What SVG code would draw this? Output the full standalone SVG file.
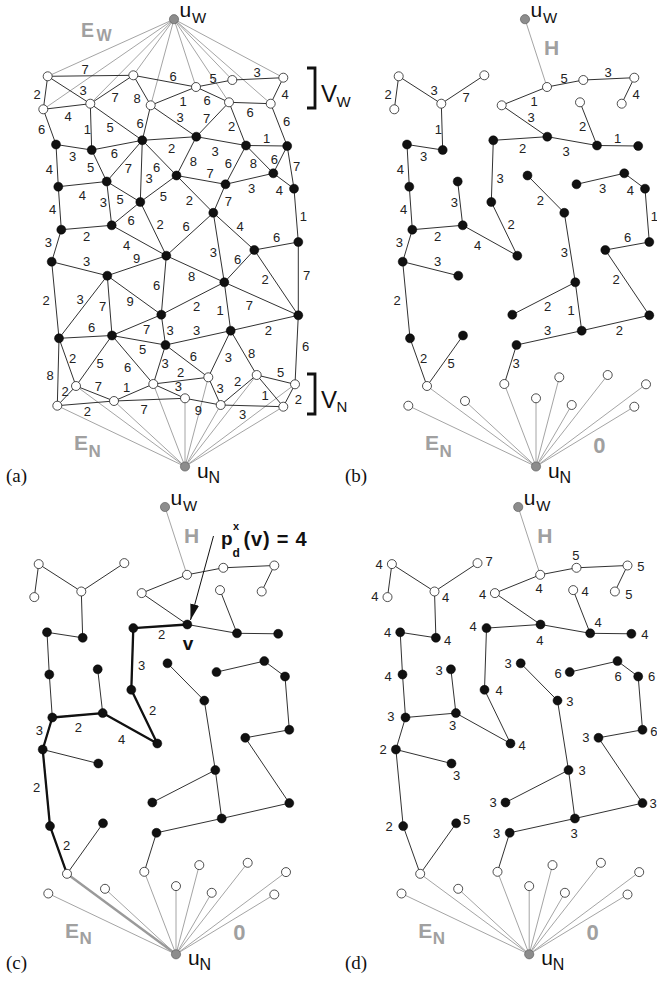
<svg xmlns="http://www.w3.org/2000/svg" width="657" height="981" viewBox="0 0 657 981">
<style>
.e line{stroke:#1a1a1a;stroke-width:0.9}
.g line,line.g{stroke:#9a9a9a;stroke-width:0.9}
.bold line{stroke:#111;stroke-width:2.3;stroke-linecap:round}
line.gb{stroke:#9a9a9a;stroke-width:2.4}
.w{fill:#fff;stroke:#222;stroke-width:0.8}
.b{fill:#111;stroke:#000;stroke-width:0.5}
.u{fill:#8c8c8c;stroke:#555;stroke-width:0.6}
.l text{font-family:'Liberation Sans',Arial,sans-serif;font-size:13px;fill:#222;text-anchor:middle}
.gl{font-family:'Liberation Sans',Arial,sans-serif;font-weight:bold;fill:#a0a0a0}
.t{font-family:'Liberation Sans',Arial,sans-serif;fill:#111}
.tb{font-family:'Liberation Sans',Arial,sans-serif;font-weight:bold;fill:#111}
.p{font-family:'Liberation Serif','Times New Roman',serif;font-size:19px;fill:#111}
.br{fill:none;stroke:#111;stroke-width:2.8}
</style>
<defs>
<marker id="ah" viewBox="0 0 16 9" refX="16" refY="4.5" markerWidth="16" markerHeight="9" markerUnits="userSpaceOnUse" orient="auto"><path d="M0,0 L16,4.5 L0,9 z" fill="#111"/></marker>
<g id="forest">
<g class="g">
<line x1="174" y1="19.2" x2="196" y2="87"/>
<line x1="185" y1="466.5" x2="76" y2="386"/>
<line x1="185" y1="466.5" x2="57.3" y2="405.7"/>
<line x1="185" y1="466.5" x2="114" y2="401"/>
<line x1="185" y1="466.5" x2="153.3" y2="384"/>
<line x1="185" y1="466.5" x2="208.3" y2="377.3"/>
<line x1="185" y1="466.5" x2="256.7" y2="375"/>
<line x1="185" y1="466.5" x2="295" y2="384.3"/>
<line x1="185" y1="466.5" x2="185" y2="398.3"/>
<line x1="185" y1="466.5" x2="220.7" y2="405"/>
<line x1="185" y1="466.5" x2="283.3" y2="406.7"/>
</g>
<g class="e">
<line x1="47.7" y1="76.3" x2="43.3" y2="109.3"/>
<line x1="47.7" y1="76.3" x2="90.3" y2="103.7"/>
<line x1="90.3" y1="103.7" x2="133.3" y2="75.3"/>
<line x1="90.3" y1="103.7" x2="91.7" y2="150"/>
<line x1="56" y1="144.5" x2="91.7" y2="150"/>
<line x1="56" y1="144.5" x2="58.3" y2="186.7"/>
<line x1="58.3" y1="186.7" x2="61.3" y2="229.7"/>
<line x1="61.3" y1="229.7" x2="111.7" y2="225.3"/>
<line x1="61.3" y1="229.7" x2="51.7" y2="261.7"/>
<line x1="106.7" y1="181.5" x2="111.7" y2="225.3"/>
<line x1="111.7" y1="225.3" x2="166.3" y2="255.7"/>
<line x1="140.3" y1="202" x2="166.3" y2="255.7"/>
<line x1="142.3" y1="140.3" x2="140.3" y2="202"/>
<line x1="142.3" y1="140.3" x2="196.3" y2="136.7"/>
<line x1="150.7" y1="105.3" x2="196.3" y2="136.7"/>
<line x1="150.7" y1="105.3" x2="196" y2="87"/>
<line x1="196" y1="87" x2="232.3" y2="80"/>
<line x1="232.3" y1="80" x2="283.3" y2="77.7"/>
<line x1="283.3" y1="77.7" x2="270.7" y2="103.7"/>
<line x1="229" y1="102.3" x2="246" y2="145.5"/>
<line x1="196.3" y1="136.7" x2="246" y2="145.5"/>
<line x1="246" y1="145.5" x2="287.2" y2="146"/>
<line x1="176.5" y1="175.5" x2="213.3" y2="212.8"/>
<line x1="225.5" y1="184.3" x2="273.3" y2="173.3"/>
<line x1="273.3" y1="173.3" x2="294" y2="188.7"/>
<line x1="294" y1="188.7" x2="298.3" y2="242"/>
<line x1="254.3" y1="250" x2="298.3" y2="242"/>
<line x1="254.3" y1="250" x2="298.3" y2="315.3"/>
<line x1="230.7" y1="330.7" x2="298.3" y2="315.3"/>
<line x1="224.3" y1="282.3" x2="230.7" y2="330.7"/>
<line x1="165.5" y1="345" x2="230.7" y2="330.7"/>
<line x1="165.5" y1="345" x2="153.3" y2="384"/>
<line x1="161.3" y1="314.7" x2="224.3" y2="282.3"/>
<line x1="213.3" y1="212.8" x2="224.3" y2="282.3"/>
<line x1="51.7" y1="261.7" x2="107.3" y2="275.7"/>
<line x1="51.7" y1="261.7" x2="59" y2="338.3"/>
<line x1="59" y1="338.3" x2="76" y2="386"/>
<line x1="112" y1="335.5" x2="76" y2="386"/>
</g>
</g>
</defs>

<!-- ===== Panel (a) ===== -->
<g id="connectors-a">
<g class="g">
<line x1="174" y1="19.2" x2="47.7" y2="76.3"/>
<line x1="174" y1="19.2" x2="43.3" y2="109.3"/>
<line x1="174" y1="19.2" x2="90.3" y2="103.7"/>
<line x1="174" y1="19.2" x2="133.3" y2="75.3"/>
<line x1="174" y1="19.2" x2="150.7" y2="105.3"/>
<line x1="174" y1="19.2" x2="196" y2="87"/>
<line x1="174" y1="19.2" x2="232.3" y2="80"/>
<line x1="174" y1="19.2" x2="283.3" y2="77.7"/>
<line x1="174" y1="19.2" x2="229" y2="102.3"/>
<line x1="174" y1="19.2" x2="270.7" y2="103.7"/>
<line x1="185" y1="466.5" x2="76" y2="386"/>
<line x1="185" y1="466.5" x2="57.3" y2="405.7"/>
<line x1="185" y1="466.5" x2="114" y2="401"/>
<line x1="185" y1="466.5" x2="153.3" y2="384"/>
<line x1="185" y1="466.5" x2="208.3" y2="377.3"/>
<line x1="185" y1="466.5" x2="256.7" y2="375"/>
<line x1="185" y1="466.5" x2="295" y2="384.3"/>
<line x1="185" y1="466.5" x2="185" y2="398.3"/>
<line x1="185" y1="466.5" x2="220.7" y2="405"/>
<line x1="185" y1="466.5" x2="283.3" y2="406.7"/>
</g>
<g class="e">
<line x1="47.7" y1="76.3" x2="133.3" y2="75.3"/>
<line x1="47.7" y1="76.3" x2="43.3" y2="109.3"/>
<line x1="47.7" y1="76.3" x2="90.3" y2="103.7"/>
<line x1="43.3" y1="109.3" x2="90.3" y2="103.7"/>
<line x1="90.3" y1="103.7" x2="133.3" y2="75.3"/>
<line x1="133.3" y1="75.3" x2="150.7" y2="105.3"/>
<line x1="133.3" y1="75.3" x2="196" y2="87"/>
<line x1="196" y1="87" x2="232.3" y2="80"/>
<line x1="232.3" y1="80" x2="283.3" y2="77.7"/>
<line x1="150.7" y1="105.3" x2="196" y2="87"/>
<line x1="196" y1="87" x2="229" y2="102.3"/>
<line x1="229" y1="102.3" x2="270.7" y2="103.7"/>
<line x1="283.3" y1="77.7" x2="270.7" y2="103.7"/>
<line x1="43.3" y1="109.3" x2="56" y2="144.5"/>
<line x1="90.3" y1="103.7" x2="91.7" y2="150"/>
<line x1="90.3" y1="103.7" x2="142.3" y2="140.3"/>
<line x1="150.7" y1="105.3" x2="142.3" y2="140.3"/>
<line x1="150.7" y1="105.3" x2="196.3" y2="136.7"/>
<line x1="229" y1="102.3" x2="196.3" y2="136.7"/>
<line x1="229" y1="102.3" x2="246" y2="145.5"/>
<line x1="270.7" y1="103.7" x2="287.2" y2="146"/>
<line x1="56" y1="144.5" x2="91.7" y2="150"/>
<line x1="91.7" y1="150" x2="142.3" y2="140.3"/>
<line x1="142.3" y1="140.3" x2="196.3" y2="136.7"/>
<line x1="196.3" y1="136.7" x2="246" y2="145.5"/>
<line x1="246" y1="145.5" x2="287.2" y2="146"/>
<line x1="56" y1="144.5" x2="58.3" y2="186.7"/>
<line x1="91.7" y1="150" x2="106.7" y2="181.5"/>
<line x1="142.3" y1="140.3" x2="106.7" y2="181.5"/>
<line x1="142.3" y1="140.3" x2="140.3" y2="202"/>
<line x1="142.3" y1="140.3" x2="176.5" y2="175.5"/>
<line x1="196.3" y1="136.7" x2="176.5" y2="175.5"/>
<line x1="246" y1="145.5" x2="225.5" y2="184.3"/>
<line x1="246" y1="145.5" x2="273.3" y2="173.3"/>
<line x1="287.2" y1="146" x2="273.3" y2="173.3"/>
<line x1="287.2" y1="146" x2="294" y2="188.7"/>
<line x1="58.3" y1="186.7" x2="106.7" y2="181.5"/>
<line x1="106.7" y1="181.5" x2="140.3" y2="202"/>
<line x1="140.3" y1="202" x2="176.5" y2="175.5"/>
<line x1="176.5" y1="175.5" x2="225.5" y2="184.3"/>
<line x1="225.5" y1="184.3" x2="273.3" y2="173.3"/>
<line x1="273.3" y1="173.3" x2="294" y2="188.7"/>
<line x1="58.3" y1="186.7" x2="61.3" y2="229.7"/>
<line x1="106.7" y1="181.5" x2="111.7" y2="225.3"/>
<line x1="140.3" y1="202" x2="111.7" y2="225.3"/>
<line x1="140.3" y1="202" x2="166.3" y2="255.7"/>
<line x1="176.5" y1="175.5" x2="213.3" y2="212.8"/>
<line x1="225.5" y1="184.3" x2="213.3" y2="212.8"/>
<line x1="294" y1="188.7" x2="298.3" y2="242"/>
<line x1="61.3" y1="229.7" x2="111.7" y2="225.3"/>
<line x1="61.3" y1="229.7" x2="51.7" y2="261.7"/>
<line x1="111.7" y1="225.3" x2="166.3" y2="255.7"/>
<line x1="213.3" y1="212.8" x2="166.3" y2="255.7"/>
<line x1="213.3" y1="212.8" x2="224.3" y2="282.3"/>
<line x1="213.3" y1="212.8" x2="254.3" y2="250"/>
<line x1="254.3" y1="250" x2="298.3" y2="242"/>
<line x1="51.7" y1="261.7" x2="107.3" y2="275.7"/>
<line x1="107.3" y1="275.7" x2="166.3" y2="255.7"/>
<line x1="166.3" y1="255.7" x2="161.3" y2="314.7"/>
<line x1="166.3" y1="255.7" x2="224.3" y2="282.3"/>
<line x1="224.3" y1="282.3" x2="254.3" y2="250"/>
<line x1="254.3" y1="250" x2="298.3" y2="315.3"/>
<line x1="298.3" y1="242" x2="298.3" y2="315.3"/>
<line x1="51.7" y1="261.7" x2="59" y2="338.3"/>
<line x1="107.3" y1="275.7" x2="59" y2="338.3"/>
<line x1="107.3" y1="275.7" x2="112" y2="335.5"/>
<line x1="107.3" y1="275.7" x2="161.3" y2="314.7"/>
<line x1="161.3" y1="314.7" x2="224.3" y2="282.3"/>
<line x1="224.3" y1="282.3" x2="230.7" y2="330.7"/>
<line x1="224.3" y1="282.3" x2="298.3" y2="315.3"/>
<line x1="59" y1="338.3" x2="112" y2="335.5"/>
<line x1="112" y1="335.5" x2="161.3" y2="314.7"/>
<line x1="161.3" y1="314.7" x2="165.5" y2="345"/>
<line x1="165.5" y1="345" x2="230.7" y2="330.7"/>
<line x1="230.7" y1="330.7" x2="298.3" y2="315.3"/>
<line x1="112" y1="335.5" x2="165.5" y2="345"/>
<line x1="59" y1="338.3" x2="76" y2="386"/>
<line x1="112" y1="335.5" x2="76" y2="386"/>
<line x1="112" y1="335.5" x2="153.3" y2="384"/>
<line x1="59" y1="338.3" x2="57.3" y2="405.7"/>
<line x1="165.5" y1="345" x2="153.3" y2="384"/>
<line x1="165.5" y1="345" x2="208.3" y2="377.3"/>
<line x1="230.7" y1="330.7" x2="208.3" y2="377.3"/>
<line x1="230.7" y1="330.7" x2="256.7" y2="375"/>
<line x1="298.3" y1="315.3" x2="295" y2="384.3"/>
<line x1="76" y1="386" x2="57.3" y2="405.7"/>
<line x1="76" y1="386" x2="114" y2="401"/>
<line x1="114" y1="401" x2="153.3" y2="384"/>
<line x1="57.3" y1="405.7" x2="114" y2="401"/>
<line x1="114" y1="401" x2="185" y2="398.3"/>
<line x1="153.3" y1="384" x2="208.3" y2="377.3"/>
<line x1="153.3" y1="384" x2="185" y2="398.3"/>
<line x1="208.3" y1="377.3" x2="220.7" y2="405"/>
<line x1="220.7" y1="405" x2="256.7" y2="375"/>
<line x1="256.7" y1="375" x2="295" y2="384.3"/>
<line x1="256.7" y1="375" x2="283.3" y2="406.7"/>
<line x1="295" y1="384.3" x2="283.3" y2="406.7"/>
<line x1="185" y1="398.3" x2="220.7" y2="405"/>
<line x1="220.7" y1="405" x2="283.3" y2="406.7"/>
</g>
</g>

<g id="nodes-a">
<g id="n-uW"><circle class="u" cx="174" cy="19.2" r="4.6"/><text class="t" x="179.5" y="17.3" font-size="21">u</text><text class="t" x="192" y="23.3" font-size="15">W</text></g>
<g id="n-uN"><circle class="u" cx="185" cy="466.5" r="4.6"/><text class="t" x="197" y="477.5" font-size="21">u</text><text class="t" x="208.5" y="482.5" font-size="16">N</text></g>
<g id="n-W1"><circle class="w" cx="47.7" cy="76.3" r="4.5"/></g>
<g id="n-W2"><circle class="w" cx="43.3" cy="109.3" r="4.5"/></g>
<g id="n-W3"><circle class="w" cx="90.3" cy="103.7" r="4.5"/></g>
<g id="n-W4"><circle class="w" cx="133.3" cy="75.3" r="4.5"/></g>
<g id="n-W5"><circle class="w" cx="150.7" cy="105.3" r="4.5"/></g>
<g id="n-W6"><circle class="w" cx="196" cy="87" r="4.5"/></g>
<g id="n-W7"><circle class="w" cx="232.3" cy="80" r="4.5"/></g>
<g id="n-W8"><circle class="w" cx="283.3" cy="77.7" r="4.5"/></g>
<g id="n-W9"><circle class="w" cx="229" cy="102.3" r="4.5"/></g>
<g id="n-W10"><circle class="w" cx="270.7" cy="103.7" r="4.5"/></g>
<g id="n-B1"><circle class="b" cx="56" cy="144.5" r="4.5"/></g>
<g id="n-B2"><circle class="b" cx="91.7" cy="150" r="4.5"/></g>
<g id="n-B3"><circle class="b" cx="142.3" cy="140.3" r="4.5"/></g>
<g id="n-B4"><circle class="b" cx="58.3" cy="186.7" r="4.5"/></g>
<g id="n-B5"><circle class="b" cx="106.7" cy="181.5" r="4.5"/></g>
<g id="n-B6"><circle class="b" cx="140.3" cy="202" r="4.5"/></g>
<g id="n-B7"><circle class="b" cx="61.3" cy="229.7" r="4.5"/></g>
<g id="n-B8"><circle class="b" cx="111.7" cy="225.3" r="4.5"/></g>
<g id="n-B9"><circle class="b" cx="196.3" cy="136.7" r="4.5"/></g>
<g id="n-B10"><circle class="b" cx="246" cy="145.5" r="4.5"/></g>
<g id="n-B11"><circle class="b" cx="287.2" cy="146" r="4.5"/></g>
<g id="n-B12"><circle class="b" cx="176.5" cy="175.5" r="4.5"/></g>
<g id="n-B13"><circle class="b" cx="225.5" cy="184.3" r="4.5"/></g>
<g id="n-B14"><circle class="b" cx="273.3" cy="173.3" r="4.5"/></g>
<g id="n-B15"><circle class="b" cx="294" cy="188.7" r="4.5"/></g>
<g id="n-B16"><circle class="b" cx="213.3" cy="212.8" r="4.5"/></g>
<g id="n-B17"><circle class="b" cx="298.3" cy="242" r="4.5"/></g>
<g id="n-B18"><circle class="b" cx="51.7" cy="261.7" r="4.5"/></g>
<g id="n-B19"><circle class="b" cx="107.3" cy="275.7" r="4.5"/></g>
<g id="n-B20"><circle class="b" cx="166.3" cy="255.7" r="4.5"/></g>
<g id="n-B21"><circle class="b" cx="161.3" cy="314.7" r="4.5"/></g>
<g id="n-B22"><circle class="b" cx="59" cy="338.3" r="4.5"/></g>
<g id="n-B23"><circle class="b" cx="112" cy="335.5" r="4.5"/></g>
<g id="n-B24"><circle class="b" cx="165.5" cy="345" r="4.5"/></g>
<g id="n-B25"><circle class="b" cx="224.3" cy="282.3" r="4.5"/></g>
<g id="n-B26"><circle class="b" cx="254.3" cy="250" r="4.5"/></g>
<g id="n-B28"><circle class="b" cx="298.3" cy="315.3" r="4.5"/></g>
<g id="n-B29"><circle class="b" cx="230.7" cy="330.7" r="4.5"/></g>
<g id="n-N1"><circle class="w" cx="76" cy="386" r="4.5"/></g>
<g id="n-N2"><circle class="w" cx="57.3" cy="405.7" r="4.5"/></g>
<g id="n-N3"><circle class="w" cx="114" cy="401" r="4.5"/></g>
<g id="n-N4"><circle class="w" cx="153.3" cy="384" r="4.5"/></g>
<g id="n-N5"><circle class="w" cx="208.3" cy="377.3" r="4.5"/></g>
<g id="n-N6"><circle class="w" cx="256.7" cy="375" r="4.5"/></g>
<g id="n-N7"><circle class="w" cx="295" cy="384.3" r="4.5"/></g>
<g id="n-N8"><circle class="w" cx="185" cy="398.3" r="4.5"/></g>
<g id="n-N9"><circle class="w" cx="220.7" cy="405" r="4.5"/></g>
<g id="n-N10"><circle class="w" cx="283.3" cy="406.7" r="4.5"/></g>
</g>

<g id="labels-a" class="l">
<text x="85" y="73.6">7</text><text x="37" y="98.6">2</text><text x="83" y="94.6">3</text><text x="68" y="120.6">4</text>
<text x="115" y="101.6">7</text><text x="137" y="102.6">8</text><text x="173" y="80.6">6</text><text x="213" y="82.6">5</text>
<text x="257" y="76.6">3</text><text x="183" y="105.6">1</text><text x="207" y="104.6">6</text><text x="250" y="116.6">6</text>
<text x="285" y="98.6">4</text><text x="41.7" y="133.9">6</text><text x="87.3" y="133.9">1</text><text x="110" y="132.3">5</text>
<text x="140" y="127.9">6</text><text x="180" y="121.9">3</text><text x="206.7" y="122.9">7</text><text x="231.7" y="131.3">2</text>
<text x="286.7" y="126.3">6</text><text x="72.7" y="161.3">3</text><text x="114.3" y="157.9">6</text><text x="171.7" y="152.9">2</text>
<text x="215" y="156.3">3</text><text x="266.7" y="142.9">1</text><text x="49.3" y="173.9">4</text><text x="90.7" y="171.9">5</text>
<text x="128.3" y="172.9">7</text><text x="149" y="182.9">3</text><text x="156.7" y="172.3">6</text><text x="193.3" y="166.3">8</text>
<text x="228.3" y="167.9">6</text><text x="253.3" y="167.9">8</text><text x="274.3" y="163.9">6</text><text x="296.7" y="171.3">7</text>
<text x="82.3" y="199.6">4</text><text x="120" y="203.6">5</text><text x="163.3" y="201.3">5</text><text x="210" y="177.9">7</text>
<text x="251.7" y="192.9">3</text><text x="279.3" y="194.6">4</text><text x="52.7" y="213.9">4</text><text x="103.3" y="207.3">3</text>
<text x="131" y="225.3">6</text><text x="160" y="228.9">2</text><text x="189.3" y="204.6">2</text><text x="228.3" y="206.3">7</text>
<text x="303.3" y="221.3">1</text><text x="86.7" y="241.3">2</text><text x="48.3" y="247.3">3</text><text x="126.7" y="249.6">4</text>
<text x="186" y="231.3">6</text><text x="213.3" y="257.3">3</text><text x="240" y="230.6">4</text><text x="276.7" y="241.6">6</text>
<text x="86.7" y="266.3">3</text><text x="136.7" y="262.9">9</text><text x="156.7" y="289.6">6</text><text x="191.7" y="280.6">8</text>
<text x="237.7" y="263.9">6</text><text x="265" y="283.9">2</text><text x="306.7" y="279.6">7</text><text x="46" y="304.6">2</text>
<text x="80" y="303.6">3</text><text x="102.7" y="310.6">7</text><text x="130" y="306.3">9</text><text x="196.7" y="311.3">2</text>
<text x="220" y="314.6">1</text><text x="249.3" y="309.6">7</text><text x="91.7" y="331.9">6</text><text x="146.7" y="333.6">7</text>
<text x="170" y="334.6">3</text><text x="196.7" y="335.3">3</text><text x="268.3" y="334.6">2</text><text x="142.7" y="353.9">5</text>
<text x="72.7" y="362.9">2</text><text x="100" y="367.9">5</text><text x="127.7" y="372.3">6</text><text x="50" y="380.3">8</text>
<text x="165" y="367.9">3</text><text x="193.3" y="361.3">6</text><text x="228.3" y="362.3">3</text><text x="251.7" y="357.9">8</text>
<text x="305.7" y="351.3">6</text><text x="65" y="395.6">2</text><text x="98.3" y="391.3">7</text><text x="126.7" y="391.9">1</text>
<text x="87.3" y="416.3">2</text><text x="144" y="413.9">7</text><text x="180.5" y="376.9">2</text><text x="178.3" y="391">3</text>
<text x="220" y="392.9">3</text><text x="237.7" y="386.3">2</text><text x="280.7" y="377.3">5</text><text x="265" y="399.6">1</text>
<text x="298.3" y="403.9">2</text><text x="198.3" y="414.6">9</text><text x="242.7" y="418.9">3</text>
</g>

<g id="extras-a">
<text class="gl" x="81" y="37.3" font-size="19.5">E</text><text class="gl" x="96.5" y="40.7" font-size="16">W</text>
<text class="gl" x="74" y="450" font-size="21">E</text><text class="gl" x="88.5" y="456.5" font-size="17">N</text>
<path class="br" d="M307,68 H315 V108 H307"/>
<text class="t" x="321" y="101.5" font-size="24">V</text><text class="t" x="336.5" y="106.7" font-size="15">W</text>
<path class="br" d="M307,374 H315 V414 H307"/>
<text class="t" x="321" y="408" font-size="24">V</text><text class="t" x="336.5" y="412" font-size="15">N</text>
<text class="p" x="6" y="482">(a)</text>
</g>

<!-- ===== Panel (b) ===== -->
<g id="panel-b" transform="translate(351,0)">
<g id="connectors-b"><use href="#forest"/></g>
<use href="#nodes-a"/>
<g id="labels-b" class="l">
<text x="37" y="98.6">2</text><text x="83" y="94.6">3</text><text x="115" y="101.6">7</text><text x="87.3" y="133.9">1</text>
<text x="72.7" y="161.3">3</text><text x="49.3" y="173.9">4</text><text x="52.7" y="213.9">4</text><text x="86.7" y="241.3">2</text>
<text x="48.3" y="247.3">3</text><text x="103.3" y="207.3">3</text><text x="126.7" y="249.6">4</text><text x="160" y="228.9">2</text>
<text x="149" y="182.9">3</text><text x="171.7" y="152.9">2</text><text x="180" y="121.9">3</text><text x="183" y="105.6">1</text>
<text x="213" y="82.6">5</text><text x="257" y="76.6">3</text><text x="285" y="98.6">4</text><text x="231.7" y="131.3">2</text>
<text x="215" y="156.3">3</text><text x="266.7" y="142.9">1</text><text x="189.3" y="204.6">2</text><text x="251.7" y="192.9">3</text>
<text x="279.3" y="194.6">4</text><text x="303.3" y="221.3">1</text><text x="276.7" y="241.6">6</text><text x="265" y="283.9">2</text>
<text x="268.3" y="334.6">2</text><text x="220" y="314.6">1</text><text x="196.7" y="335.3">3</text><text x="165" y="367.9">3</text>
<text x="196.7" y="311.3">2</text><text x="213.3" y="257.3">3</text><text x="86.7" y="266.3">3</text><text x="46" y="304.6">2</text>
<text x="72.7" y="362.9">2</text><text x="100" y="367.9">5</text>
</g>
<text class="gl" x="193" y="55.3" font-size="21">H</text>
<text class="gl" x="74" y="450" font-size="21">E</text><text class="gl" x="88.5" y="456.5" font-size="17">N</text>
<text class="gl" x="242.3" y="452.7" font-size="22">0</text>
</g>
<text class="p" x="345" y="482">(b)</text>

<!-- ===== Panel (c) ===== -->
<g id="panel-c" transform="translate(-9,487.8)">
<g id="connectors-c">
<use href="#forest"/>
<g class="bold">
<line x1="196.3" y1="136.7" x2="142.3" y2="140.3"/>
<line x1="142.3" y1="140.3" x2="140.3" y2="202"/>
<line x1="140.3" y1="202" x2="166.3" y2="255.7"/>
<line x1="166.3" y1="255.7" x2="111.7" y2="225.3"/>
<line x1="111.7" y1="225.3" x2="61.3" y2="229.7"/>
<line x1="61.3" y1="229.7" x2="51.7" y2="261.7"/>
<line x1="51.7" y1="261.7" x2="59" y2="338.3"/>
<line x1="59" y1="338.3" x2="76" y2="386"/>
</g>
<line class="gb" x1="76" y1="386" x2="185" y2="466.5"/>
</g>
<use href="#nodes-a"/>
<g id="labels-c" class="l">
<text x="170.7" y="151.5">2</text><text x="150.7" y="182.6">3</text><text x="161.7" y="227.6">2</text><text x="130.7" y="255.9">4</text>
<text x="87.3" y="244.6">2</text><text x="48.3" y="247.6">3</text><text x="45.7" y="304.3">2</text><text x="75.7" y="362.6">2</text>
</g>
<text class="gl" x="193" y="55.3" font-size="21">H</text>
<text class="gl" x="74" y="450" font-size="21">E</text><text class="gl" x="88.5" y="456.5" font-size="17">N</text>
<text class="gl" x="242.3" y="452.7" font-size="22">0</text>
</g>
<g id="annotation-c">
<line x1="213.5" y1="536" x2="190.5" y2="620" stroke="#111" stroke-width="1" marker-end="url(#ah)"/>
<text class="tb" x="221" y="545" font-size="19">p</text>
<text class="tb" x="233" y="529.5" font-size="11">x</text>
<text class="tb" x="232.5" y="557" font-size="12">d</text>
<text class="tb" x="243.5" y="545.5" font-size="20" letter-spacing="0.8">(v) = 4</text>
<text class="tb" x="188" y="650" font-size="19" text-anchor="middle">v</text>
</g>
<text class="p" x="6" y="969">(c)</text>

<!-- ===== Panel (d) ===== -->
<g id="panel-d" transform="translate(344.2,487.8)">
<g id="connectors-d"><use href="#forest"/></g>
<use href="#nodes-a"/>
<g id="labels-d" class="l">
<text x="35" y="81.1">4</text><text x="30.7" y="113.5">4</text><text x="145" y="77.8">7</text><text x="101.4" y="114.5">4</text>
<text x="138.4" y="110.8">4</text><text x="195" y="105.1">4</text><text x="231.7" y="71.8">5</text><text x="296.7" y="82.8">5</text>
<text x="241" y="108.5">4</text><text x="284.7" y="110.8">5</text><text x="43.4" y="149.5">4</text><text x="103.4" y="156.8">4</text>
<text x="129" y="143.5">4</text><text x="195.7" y="156.8">4</text><text x="254" y="139.5">4</text><text x="300.7" y="150.8">4</text>
<text x="44" y="193.5">4</text><text x="95" y="186.8">3</text><text x="155" y="207.5">4</text><text x="164" y="180.1">3</text>
<text x="225.7" y="217.8">3</text><text x="214" y="190.1">6</text><text x="274" y="193.5">6</text><text x="307.4" y="192.8">6</text>
<text x="46.7" y="233.5">3</text><text x="108.4" y="241.8">3</text><text x="178" y="261.8">4</text><text x="241.7" y="254.1">3</text>
<text x="309.7" y="248.5">6</text><text x="39" y="266.1">2</text><text x="112.4" y="291.8">3</text><text x="238" y="287.5">3</text>
<text x="149" y="319.1">3</text><text x="309" y="320.1">3</text><text x="45" y="342.8">2</text><text x="122.4" y="336.1">5</text>
<text x="152.4" y="350.1">3</text><text x="230" y="350.1">3</text>
</g>
<text class="gl" x="193" y="55.3" font-size="21">H</text>
<text class="gl" x="74" y="450" font-size="21">E</text><text class="gl" x="88.5" y="456.5" font-size="17">N</text>
<text class="gl" x="242.3" y="452.7" font-size="22">0</text>
</g>
<text class="p" x="345" y="969">(d)</text>
</svg>
